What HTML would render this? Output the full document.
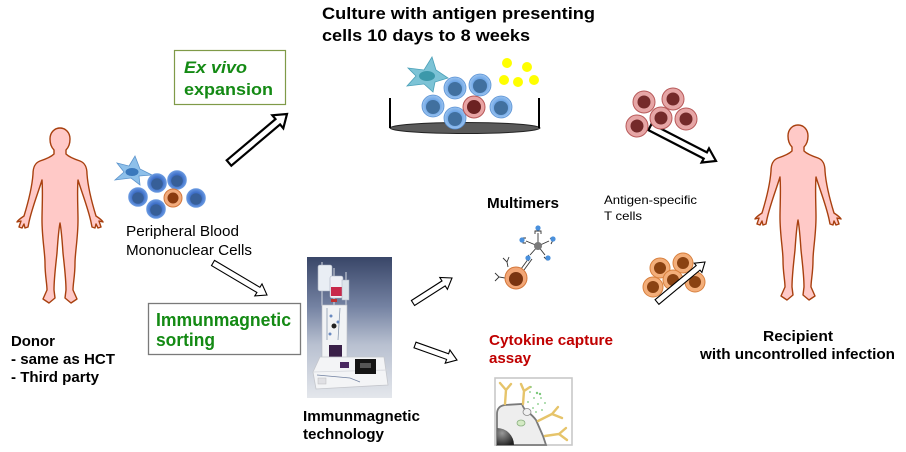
<!DOCTYPE html>
<html><head><meta charset="utf-8"><style>
html,body{margin:0;padding:0;background:#fff;}
svg{display:block;}
text{font-family:"Liberation Sans",Arial,sans-serif;}
</style></head><body>
<svg width="906" height="452" viewBox="0 0 906 452" xmlns="http://www.w3.org/2000/svg">
<defs>
<radialGradient id="bl" cx="0.5" cy="0.5" r="0.5"><stop offset="0.6" stop-color="#3f70c8"/><stop offset="1" stop-color="#6a9ae2"/></radialGradient>
<radialGradient id="lb" cx="0.5" cy="0.5" r="0.5"><stop offset="0.6" stop-color="#6ea6e6"/><stop offset="1" stop-color="#9cc4f0"/></radialGradient>
<linearGradient id="devbg" x1="0" y1="0" x2="0" y2="1"><stop offset="0" stop-color="#394668"/><stop offset="0.35" stop-color="#7482a2"/><stop offset="0.62" stop-color="#b8c0d0"/><stop offset="1" stop-color="#e4e7ec"/></linearGradient>
<radialGradient id="nuc" cx="0.3" cy="0.3" r="0.8"><stop offset="0" stop-color="#999"/><stop offset="1" stop-color="#222"/></radialGradient>
</defs>

<!-- Donor figure -->
<g transform="translate(60,128)">
<path d="M 0 0 C 6 0, 10 5, 10 11 C 10 16, 9 19, 6 22 L 6 26 C 9 29, 14 31, 20 33 C 25 35, 27 39, 27 46 C 28 60, 32 75, 36 88 C 39 90, 42 92, 43 94 L 39 93 L 41 99 L 38 100 L 36 96 L 35 100 L 32 99 L 31 94 C 28 80, 22 65, 18 52 C 17 65, 18 80, 18 92 C 18 110, 15 125, 15 135 C 15 148, 13 155, 13 162 L 17 171 L 11 175 L 5 170 L 6 162 C 6 150, 4 135, 3 125 C 2 110, 1 100, 0 95 C -1 100, -2 110, -3 125 C -4 135, -6 150, -6 162 L -5 170 L -11 175 L -17 171 L -13 162 C -13 155, -15 148, -15 135 C -15 125, -18 110, -18 92 C -18 80, -17 65, -18 52 C -22 65, -28 80, -31 94 L -32 99 L -35 100 L -36 96 L -38 100 L -41 99 L -39 93 L -43 94 C -42 92, -39 90, -36 88 C -32 75, -28 60, -27 46 C -27 39, -25 35, -20 33 C -14 31, -9 29, -6 26 L -6 22 C -9 19, -10 16, -10 11 C -10 5, -6 0, 0 0 Z" fill="#ffc9c7" stroke="#a8400f" stroke-width="1.4" stroke-linejoin="round"/>
</g>
<!-- Recipient figure -->
<g transform="translate(798,125)">
<path d="M 0 0 C 6 0, 10 5, 10 11 C 10 16, 9 19, 6 22 L 6 26 C 9 29, 14 31, 20 33 C 25 35, 27 39, 27 46 C 28 60, 32 75, 36 88 C 39 90, 42 92, 43 94 L 39 93 L 41 99 L 38 100 L 36 96 L 35 100 L 32 99 L 31 94 C 28 80, 22 65, 18 52 C 17 65, 18 80, 18 92 C 18 110, 15 125, 15 135 C 15 148, 13 155, 13 162 L 17 171 L 11 175 L 5 170 L 6 162 C 6 150, 4 135, 3 125 C 2 110, 1 100, 0 95 C -1 100, -2 110, -3 125 C -4 135, -6 150, -6 162 L -5 170 L -11 175 L -17 171 L -13 162 C -13 155, -15 148, -15 135 C -15 125, -18 110, -18 92 C -18 80, -17 65, -18 52 C -22 65, -28 80, -31 94 L -32 99 L -35 100 L -36 96 L -38 100 L -41 99 L -39 93 L -43 94 C -42 92, -39 90, -36 88 C -32 75, -28 60, -27 46 C -27 39, -25 35, -20 33 C -14 31, -9 29, -6 26 L -6 22 C -9 19, -10 16, -10 11 C -10 5, -6 0, 0 0 Z" fill="#ffc9c7" stroke="#a8400f" stroke-width="1.4" stroke-linejoin="round"/>
</g>

<!-- Title text -->
<text x="322" y="19" font-size="17" font-weight="bold" fill="#000" textLength="273" lengthAdjust="spacingAndGlyphs">Culture with antigen presenting</text>
<text x="322" y="41" font-size="17" font-weight="bold" fill="#000" textLength="208" lengthAdjust="spacingAndGlyphs">cells 10 days to 8 weeks</text>

<!-- Ex vivo box -->
<rect x="174.5" y="50.5" width="111" height="54" fill="#fff" stroke="#7f9a48" stroke-width="1.2"/>
<text x="184" y="73" font-size="17" font-weight="bold" font-style="italic" fill="#148a14" textLength="63" lengthAdjust="spacingAndGlyphs">Ex vivo</text>
<text x="184" y="95" font-size="17" font-weight="bold" fill="#148a14" textLength="89" lengthAdjust="spacingAndGlyphs">expansion</text>

<!-- Big arrow ex vivo -->
<polygon points="226.7,160.3 275.5,119.1 272.3,115.3 287,114 283.3,128.3 280.1,124.4 231.3,165.7" fill="#fff" stroke="#000" stroke-width="2.2" stroke-linejoin="miter"/>

<!-- PBMC cells -->
<polygon points="117,163 129,166 135,156 140,169 152,175 139,176 140,185 131,178 115,180 124,172" fill="#8ec0ea" stroke="#5c94cc" stroke-width="0.8"/>
<ellipse cx="132" cy="172" rx="6.5" ry="4" fill="#3a78bc"/>
<g stroke="#6a9ae0" stroke-width="0.6">
<circle cx="157" cy="183" r="9.5" fill="url(#bl)"/><circle cx="157" cy="184" r="5.8" fill="#375f98" stroke="none"/>
<circle cx="177" cy="180" r="9.5" fill="url(#bl)"/><circle cx="177" cy="181" r="5.8" fill="#375f98" stroke="none"/>
<circle cx="138" cy="197" r="9.5" fill="url(#bl)"/><circle cx="138" cy="198" r="5.8" fill="#375f98" stroke="none"/>
<circle cx="196" cy="198" r="9.5" fill="url(#bl)"/><circle cx="196" cy="199" r="5.8" fill="#375f98" stroke="none"/>
<circle cx="156" cy="209" r="9.5" fill="url(#bl)"/><circle cx="156" cy="210" r="5.8" fill="#375f98" stroke="none"/>
</g>
<circle cx="173" cy="198" r="9" fill="#f2ab7c" stroke="#d4783c" stroke-width="1"/>
<circle cx="173" cy="198" r="5.5" fill="#8a3a0e"/>

<text x="126" y="236" font-size="14.5" fill="#000" textLength="113" lengthAdjust="spacingAndGlyphs">Peripheral Blood</text>
<text x="126" y="255" font-size="14.5" fill="#000" textLength="126" lengthAdjust="spacingAndGlyphs">Mononuclear Cells</text>

<!-- PBMC to sorting arrow -->
<polygon points="214.5,260.4 259.9,287.3 262,283.9 267,295 254.8,295.9 256.9,292.5 211.5,265.6" fill="#fff" stroke="#000" stroke-width="1.1"/>

<!-- Immunmagnetic sorting box -->
<rect x="148.5" y="303.5" width="152" height="51" fill="#fff" stroke="#7a7a7a" stroke-width="1.3"/>
<text x="156" y="326" font-size="18" font-weight="bold" fill="#148a14" textLength="135" lengthAdjust="spacingAndGlyphs">Immunmagnetic</text>
<text x="156" y="346" font-size="18" font-weight="bold" fill="#148a14" textLength="59" lengthAdjust="spacingAndGlyphs">sorting</text>

<!-- Donor text -->
<text x="11" y="346" font-size="15" font-weight="bold" fill="#000" textLength="44" lengthAdjust="spacingAndGlyphs">Donor</text>
<text x="11" y="364" font-size="15" font-weight="bold" fill="#000" textLength="104" lengthAdjust="spacingAndGlyphs">- same as HCT</text>
<text x="11" y="382" font-size="15" font-weight="bold" fill="#000" textLength="88" lengthAdjust="spacingAndGlyphs">- Third party</text>

<!-- Culture dish -->
<ellipse cx="465" cy="128" rx="75" ry="5.5" fill="#5a5a5a" stroke="#222" stroke-width="1"/>
<line x1="390" y1="98" x2="390" y2="128" stroke="#000" stroke-width="2"/>
<line x1="539" y1="98" x2="539" y2="128" stroke="#000" stroke-width="2"/>
<polygon points="432,57 436,70 448,78 435,82 433,92 424,84 407,86 416,76 408,68 424,70" fill="#7cc3d6" stroke="#4aa0b8" stroke-width="0.8"/>
<ellipse cx="427" cy="76" rx="8" ry="5" fill="#3c98aa"/>
<g stroke="#5a92d4" stroke-width="0.8">
<circle cx="455" cy="88" r="11" fill="url(#lb)"/><circle cx="455" cy="89" r="7" fill="#41709f" stroke="none"/>
<circle cx="480" cy="85" r="11" fill="url(#lb)"/><circle cx="480" cy="86" r="7" fill="#41709f" stroke="none"/>
<circle cx="433" cy="106" r="11" fill="url(#lb)"/><circle cx="433" cy="107" r="7" fill="#41709f" stroke="none"/>
<circle cx="501" cy="107" r="11" fill="url(#lb)"/><circle cx="501" cy="108" r="7" fill="#41709f" stroke="none"/>
<circle cx="455" cy="118" r="11" fill="url(#lb)"/><circle cx="455" cy="119" r="7" fill="#41709f" stroke="none"/>
</g>
<circle cx="474" cy="107" r="11" fill="#e8a4a4" stroke="#b85858" stroke-width="1"/>
<circle cx="474" cy="107" r="7" fill="#6c2222"/>
<g fill="#ffff00">
<circle cx="507" cy="63" r="5"/><circle cx="527" cy="67" r="5"/><circle cx="504" cy="80" r="5"/><circle cx="518" cy="82" r="5"/><circle cx="534" cy="80" r="5"/>
</g>

<!-- Red cells and arrow -->
<polygon points="651.6,123.9 706.9,152.4 709,148.4 716,161 701.6,162.6 703.7,158.6 648.4,130.1" fill="#fff" stroke="#000" stroke-width="2.2"/>
<g stroke="#b85a5a" stroke-width="1" fill="#e6a6a6">
<circle cx="644" cy="102" r="11"/><circle cx="673" cy="99" r="11"/><circle cx="686" cy="119" r="11"/><circle cx="637" cy="126" r="11"/><circle cx="661" cy="118" r="11"/>
</g>
<g fill="#742a2a">
<circle cx="644" cy="102" r="6.5"/><circle cx="673" cy="99" r="6.5"/><circle cx="686" cy="119" r="6.5"/><circle cx="637" cy="126" r="6.5"/><circle cx="661" cy="118" r="6.5"/>
</g>

<text x="604" y="204" font-size="12" fill="#000" textLength="93" lengthAdjust="spacingAndGlyphs">Antigen-specific</text>
<text x="604" y="220" font-size="12" fill="#000" textLength="38" lengthAdjust="spacingAndGlyphs">T cells</text>

<!-- Orange cells and arrow -->
<g stroke="#d8803e" stroke-width="1" fill="#f3ae7a">
<circle cx="660" cy="268" r="10"/><circle cx="683" cy="263" r="10"/><circle cx="653" cy="287" r="10"/><circle cx="673" cy="280" r="10"/><circle cx="695" cy="282" r="10"/>
</g>
<g fill="#8a4212">
<circle cx="660" cy="268" r="6"/><circle cx="683" cy="263" r="6"/><circle cx="653" cy="287" r="6"/><circle cx="673" cy="280" r="6"/><circle cx="695" cy="282" r="6"/>
</g>
<polygon points="655.1,299.7 696.2,265.5 694.3,263.2 705,262 701.9,272.4 700,270.1 658.9,304.3" fill="#fff" stroke="#000" stroke-width="1.1"/>

<!-- Recipient text -->
<text x="763" y="341" font-size="15" font-weight="bold" fill="#000" textLength="70" lengthAdjust="spacingAndGlyphs">Recipient</text>
<text x="700" y="359" font-size="15" font-weight="bold" fill="#000" textLength="195" lengthAdjust="spacingAndGlyphs">with uncontrolled infection</text>

<!-- Device photo -->
<rect x="307" y="257" width="85" height="141" fill="url(#devbg)"/>
<g stroke="#d8dce4" stroke-width="1">
<line x1="322" y1="262" x2="322" y2="306"/><line x1="334" y1="268" x2="334" y2="306"/><line x1="346" y1="272" x2="346" y2="306"/>
</g>
<rect x="318" y="265" width="14" height="26" rx="2" fill="#e9eef4" stroke="#a8b0c0" stroke-width="0.6"/>
<rect x="330" y="276" width="13" height="22" rx="2" fill="#eef0f6" stroke="#a8b0c0" stroke-width="0.6"/>
<rect x="331" y="287" width="11" height="9" fill="#c8284a"/>
<rect x="342" y="280" width="7" height="20" fill="#dde4ea" stroke="#a8b0c0" stroke-width="0.5"/>
<rect x="331" y="299" width="6" height="3" fill="#c03030"/>
<rect x="322" y="305" width="25" height="55" fill="#f1f3f5" stroke="#b8bcc4" stroke-width="0.6"/>
<path d="M 327 308 L 327 340 M 340 308 L 338 340" stroke="#8a9ab0" stroke-width="0.8" fill="none"/>
<circle cx="334" cy="326" r="2.5" fill="#222"/>
<circle cx="331" cy="316" r="1.5" fill="#6a8ac0"/><circle cx="338" cy="322" r="1.5" fill="#6a8ac0"/><circle cx="330" cy="334" r="1.5" fill="#6a8ac0"/>
<rect x="329" y="345" width="13" height="12" fill="#3a2048"/>
<path d="M 313 372 L 320 357 L 384 357 L 388 385 L 316 389 Z" fill="#f3f4f6" stroke="#c4c6cc" stroke-width="0.8"/>
<path d="M 313 372 L 388 370" stroke="#d4d6dc" stroke-width="0.8"/>
<rect x="355" y="359" width="21" height="15" fill="#141414"/>
<rect x="360" y="363" width="11" height="5" fill="#555"/>
<rect x="340" y="362" width="9" height="6" fill="#4a2860"/>
<path d="M 317 375 L 350 378 L 360 382" stroke="#7080a0" stroke-width="0.7" fill="none"/>
<rect x="318" y="378" width="8" height="6" fill="#e0e0e4" stroke="#bbb" stroke-width="0.5"/>

<text x="303" y="421" font-size="15" font-weight="bold" fill="#000" textLength="117" lengthAdjust="spacingAndGlyphs">Immunmagnetic</text>
<text x="303" y="439" font-size="15" font-weight="bold" fill="#000" textLength="81" lengthAdjust="spacingAndGlyphs">technology</text>

<!-- Arrows from device -->
<polygon points="411.4,300.5 442,280.9 439.8,277.5 452,278 447.4,289.3 445.2,285.9 414.6,305.5" fill="#fff" stroke="#000" stroke-width="1.1"/>
<polygon points="416,342.2 448.6,353.8 449.9,350 457,360 445.2,363.2 446.6,359.4 414,347.8" fill="#fff" stroke="#000" stroke-width="1.1"/>

<!-- Multimers -->
<text x="487" y="208" font-size="15" font-weight="bold" fill="#000" textLength="72" lengthAdjust="spacingAndGlyphs">Multimers</text>
<g stroke="#333" stroke-width="0.9" fill="none">
<line x1="538" y1="246" x2="538" y2="233"/>
<line x1="538" y1="246" x2="526" y2="241"/>
<line x1="538" y1="246" x2="549" y2="241"/>
<line x1="538" y1="246" x2="545" y2="255"/>
<line x1="538" y1="246" x2="530" y2="255"/>
<line x1="529" y1="258" x2="521" y2="269"/>
<line x1="532" y1="259" x2="524" y2="270"/>
<path d="M 535 234 L 535 231 L 541 231 L 541 234"/>
<path d="M 526 238 L 523 238 L 523 243 L 526 243"/>
<path d="M 550 238 L 553 240 L 551 244"/>
<path d="M 544 257 L 547 260 L 549 257"/>
<path d="M 529 255 L 526 258 L 529 261"/>
<path d="M 508 267 L 507 262 L 503 258 M 507 262 L 509 257"/>
<path d="M 505 278 L 499 277 L 495 273 M 499 277 L 495 281"/>
</g>
<circle cx="538" cy="246" r="4" fill="#7a7a7a"/>
<g fill="#4a90dc">
<circle cx="538" cy="228" r="2.6"/><circle cx="522" cy="240" r="2.6"/><circle cx="553" cy="239" r="2.6"/><circle cx="548" cy="258" r="2.6"/><circle cx="528" cy="258" r="2.6"/>
</g>
<circle cx="516" cy="278" r="11" fill="#f2a676" stroke="#d4783c" stroke-width="1"/>
<circle cx="516" cy="279" r="7" fill="#7a3410"/>

<!-- Cytokine capture -->
<text x="489" y="345" font-size="15" font-weight="bold" fill="#c00000" textLength="124" lengthAdjust="spacingAndGlyphs">Cytokine capture</text>
<text x="489" y="363" font-size="15" font-weight="bold" fill="#c00000" textLength="42" lengthAdjust="spacingAndGlyphs">assay</text>
<rect x="495" y="378" width="77" height="67" fill="#fff" stroke="#c8c8c8" stroke-width="1.6"/>
<path d="M 497 445 L 497 414 Q 497 406 505 405 L 522 404 Q 524 410 528 412 Q 533 416 536 420 L 543 436 L 546 445 Z" fill="#eeeeee" stroke="#7a7a7a" stroke-width="1.8"/>
<ellipse cx="527" cy="412" rx="4" ry="3.5" fill="#f0f0f0" stroke="#888" stroke-width="0.8"/>
<path d="M 497 428 A 17 17 0 0 1 514 445 L 497 445 Z" fill="url(#nuc)"/>
<ellipse cx="521" cy="423" rx="4" ry="3" fill="#d4eac4" stroke="#8ab080" stroke-width="0.8"/>
<g stroke="#e6c46a" stroke-width="2.4" fill="none" stroke-linecap="round">
<path d="M 505 404 L 506 390 L 500 383 M 506 390 L 511 384"/>
<path d="M 523 404 L 524 391 L 521 384 M 524 391 L 530 387"/>
<path d="M 538 421 L 552 414 L 558 407 M 552 414 L 562 418"/>
<path d="M 545 436 L 559 434 L 566 428 M 559 434 L 567 440"/>
</g>
<g fill="#7cc87c">
<circle cx="530" cy="392" r="0.9"/><circle cx="534" cy="398" r="0.9"/><circle cx="528" cy="402" r="0.9"/><circle cx="538" cy="404" r="0.9"/><circle cx="533" cy="408" r="0.9"/><circle cx="541" cy="398" r="0.9"/><circle cx="545" cy="403" r="0.9"/><circle cx="536" cy="412" r="0.9"/><circle cx="542" cy="410" r="0.9"/><circle cx="531" cy="387" r="0.9"/><circle cx="537" cy="393" r="1.2"/><circle cx="540" cy="394" r="1.2"/>
</g>
</svg>
</body></html>
